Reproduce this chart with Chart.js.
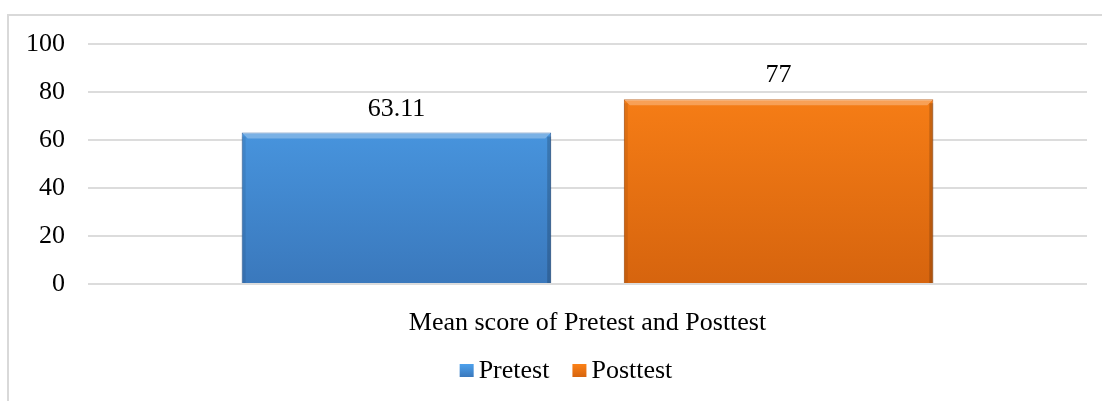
<!DOCTYPE html>
<html>
<head>
<meta charset="utf-8">
<script src="https://cdn.jsdelivr.net/npm/chart.js@4.4.1/dist/chart.umd.min.js"></script>
<style>
  html, body { margin: 0; padding: 0; background: #fff; overflow: hidden; }
  canvas { display: block; }
</style>
</head>
<body>
<canvas id="scoreChart" width="1102" height="401"></canvas>
<script>
// datos
const categories = ['Mean score of Pretest and Posttest'];
const seriesNames = ['Pretest', 'Posttest'];
const pretest = [63.11];
const posttest = [77];
const yTicks = [0, 20, 40, 60, 80, 100];

const FONT = '"Liberation Serif", "Times New Roman", serif';

// colores: arriba claro, abajo oscuro
const shades = [
  { top: '#4fa4f0', bottom: '#3a78bc', edge: '#2f62a0', solid: '#3f86cc' },
  { top: '#ff8418', bottom: '#d6640e', edge: '#b5530b', solid: '#e8700f' },
];

function barFill(i) {
  return (c) => {
    const chart = c.chart;
    if (!chart.chartArea) return shades[i].solid;
    const y = chart.scales.y;
    const g = chart.ctx.createLinearGradient(0, y.getPixelForValue(100), 0, y.getPixelForValue(0));
    g.addColorStop(0, shades[i].top);
    g.addColorStop(1, shades[i].bottom);
    return g;
  };
}

// marco gris (solo arriba e izquierda, como en el recorte original)
const frame = {
  id: 'frame',
  beforeDraw(chart) {
    const ctx = chart.ctx;
    ctx.save();
    ctx.strokeStyle = '#d9d9d9';
    ctx.lineWidth = 2;
    ctx.beginPath();
    ctx.moveTo(8, chart.height);
    ctx.lineTo(8, 15);
    ctx.lineTo(chart.width, 15);
    ctx.stroke();
    ctx.restore();
  }
};

// etiquetas de valor encima de cada barra
const valueLabels = {
  id: 'valueLabels',
  afterDatasetsDraw(chart) {
    const ctx = chart.ctx;
    ctx.save();
    ctx.font = '26px ' + FONT;
    ctx.fillStyle = '#000';
    ctx.textAlign = 'center';
    ctx.textBaseline = 'alphabetic';
    chart.data.datasets.forEach((ds, i) => {
      chart.getDatasetMeta(i).data.forEach((bar, j) => {
        ctx.fillText(String(ds.data[j]), bar.x, bar.y - 17);
      });
    });
    ctx.restore();
  }
};

// pequeño bisel en las barras
const bevel = {
  id: 'bevel',
  afterDatasetsDraw(chart) {
    const ctx = chart.ctx;
    ctx.save();
    chart.data.datasets.forEach((ds, i) => {
      chart.getDatasetMeta(i).data.forEach((bar) => {
        const p = bar.getProps(['x', 'y', 'base', 'width'], true);
        const l = p.x - p.width / 2, r = p.x + p.width / 2;
        ctx.fillStyle = 'rgba(255,255,255,0.28)';
        ctx.beginPath();
        ctx.moveTo(l, p.y); ctx.lineTo(r, p.y);
        ctx.lineTo(r - 6, p.y + 6); ctx.lineTo(l + 6, p.y + 6);
        ctx.closePath(); ctx.fill();
        ctx.fillStyle = 'rgba(0,0,0,0.18)';
        ctx.fillRect(r - 4, p.y + 4, 4, p.base - p.y - 4);
        ctx.fillStyle = 'rgba(0,0,0,0.08)';
        ctx.fillRect(l, p.y + 4, 4, p.base - p.y - 4);
      });
    });
    ctx.restore();
  }
};

// leyenda abajo, dibujada a mano para controlar los espacios
const bottomLegend = {
  id: 'bottomLegend',
  afterDraw(chart) {
    const ctx = chart.ctx;
    ctx.save();
    ctx.font = '26px ' + FONT;
    ctx.textBaseline = 'middle';
    ctx.textAlign = 'left';
    const box = 14, gap = 5, itemGap = 23, cy = 370, center = 566;
    const widths = seriesNames.map(n => box + gap + ctx.measureText(n).width);
    const total = widths.reduce((a, b) => a + b, 0) + itemGap * (widths.length - 1);
    let x = center - total / 2;
    seriesNames.forEach((n, i) => {
      const g = ctx.createLinearGradient(0, cy - 7, 0, cy + 7);
      g.addColorStop(0, shades[i].top);
      g.addColorStop(1, shades[i].bottom);
      ctx.fillStyle = g;
      ctx.fillRect(x, cy - 6, box, 13);
      ctx.fillStyle = '#000';
      ctx.fillText(n, x + box + gap, cy + 1);
      x += widths[i] + itemGap;
    });
    ctx.restore();
  }
};

const ctx = document.getElementById('scoreChart').getContext('2d');
const scoreChart = new Chart(ctx, {
  type: 'bar',
  data: {
    labels: categories,
    datasets: [
      {
        label: seriesNames[0],
        data: pretest,
        backgroundColor: barFill(0),
        borderColor: shades[0].edge,
        borderWidth: 1,
      },
      {
        label: seriesNames[1],
        data: posttest,
        backgroundColor: barFill(1),
        borderColor: shades[1].edge,
        borderWidth: 1,
      },
    ],
  },
  options: {
    responsive: false,
    animation: false,
    categoryPercentage: 0.765,
    barPercentage: 0.81,
    layout: { padding: { top: 44, right: 15, bottom: 0, left: 0 } },
    plugins: {
      legend: { display: false },
      tooltip: { enabled: false },
    },
    scales: {
      x: {
        grid: { display: false, drawTicks: false },
        border: { display: false },
        ticks: { color: '#000', font: { family: FONT, size: 26 }, padding: 24 },
        afterFit: (s) => { s.height = 117; },
      },
      y: {
        min: 0,
        max: 100,
        afterBuildTicks: (s) => { s.ticks = yTicks.map(v => ({ value: v })); },
        grid: { color: '#dcdcdc', lineWidth: 2, drawTicks: false },
        border: { display: false },
        ticks: { color: '#000', font: { family: FONT, size: 26 }, padding: 23 },
        afterFit: (s) => { s.width = 88; },
      },
    },
  },
  plugins: [frame, bevel, valueLabels, bottomLegend],
});
</script>
</body>
</html>
